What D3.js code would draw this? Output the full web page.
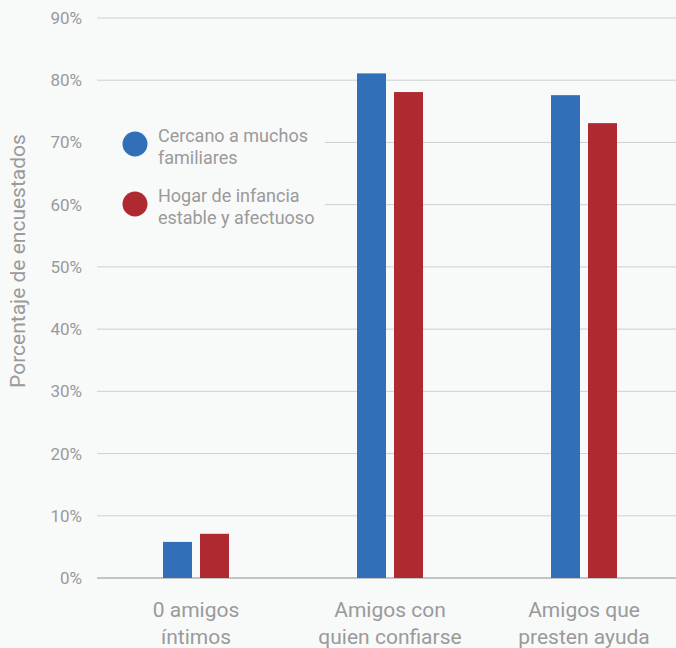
<!DOCTYPE html>
<html><head><meta charset="utf-8">
<script src="https://cdn.jsdelivr.net/npm/d3@7"></script>
<style>
html,body{margin:0;padding:0;background:#f8f9f9;overflow:hidden;}
svg{display:block;font-family:Roboto,"Noto Sans",sans-serif;}
</style></head>
<body>
<svg id="chart" width="676" height="648"></svg>
<script>
const categories = [["0 amigos","íntimos"],["Amigos con","quien confiarse"],["Amigos que","presten ayuda"]];
const seriesNames = [["Cercano a muchos","familiares"],["Hogar de infancia","estable y afectuoso"]];
const seriesColors = ["#3170b8","#ae2a30"];
const cercano = [5.8, 81.1, 77.6];
const hogar = [7.1, 78.1, 73.1];
const yTicks = [0,10,20,30,40,50,60,70,80,90];
const yTitle = "Porcentaje de encuestados";

const svg = d3.select("#chart");
svg.append("rect").attr("width",676).attr("height",648).attr("fill","#f8f9f9");

const x = d3.scaleBand().domain(d3.range(categories.length)).range([99,681]).padding(0);
const y = d3.scaleLinear().domain([0,90]).range([578,18]);

// gridlines
svg.append("g").selectAll("line").data(yTicks).join("line")
  .attr("x1",97).attr("x2",676)
  .attr("y1",d=>y(d)).attr("y2",d=>y(d))
  .attr("stroke",d=>d===0?"#c4c4c4":"#cfcfcf")
  .attr("stroke-width",d=>d===0?2:1);

// y axis labels
const yAxis = d3.axisLeft(y).tickValues(yTicks).tickFormat(d=>d+"%").tickSize(0).tickPadding(0);
const ga = svg.append("g").attr("transform","translate(82,0)").call(yAxis);
ga.select(".domain").remove();
ga.selectAll("text").attr("fill","#9a9a9a").attr("font-size",17).attr("font-family","Roboto");

// y title
svg.append("text").attr("transform","translate(25,261) rotate(-90)")
  .attr("text-anchor","middle").attr("fill","#9a9a9a").attr("font-size",21).text(yTitle);

// bars
const data = [cercano, hogar];
const barW = 29, gap = 8;
data.forEach((vals,si)=>{
  svg.append("g").selectAll("rect").data(vals).join("rect")
    .attr("x",(d,i)=>x(i)+x.bandwidth()/2 + (si===0 ? -gap/2-barW : gap/2))
    .attr("width",barW)
    .attr("y",d=>y(d)).attr("height",d=>y(0)-y(d))
    .attr("fill",seriesColors[si]);
});

// category labels
const gl = svg.append("g");
categories.forEach((c,i)=>{
  const t = gl.append("text").attr("text-anchor","middle").attr("fill","#9a9a9a").attr("font-size",21)
    .attr("x",x(i)+x.bandwidth()/2).attr("y",617);
  c.forEach((line,k)=>t.append("tspan").attr("x",x(i)+x.bandwidth()/2).attr("dy",k?27:0).text(line));
});

// legend
const lg = svg.append("g");
lg.append("rect").attr("x",96).attr("y",110).attr("width",229).attr("height",125).attr("fill","#f8f9f9");
seriesNames.forEach((s,i)=>{
  const cy = 144 + i*60;
  lg.append("circle").attr("cx",135).attr("cy",cy).attr("r",12.5).attr("fill",seriesColors[i]);
  const t = lg.append("text").attr("fill","#9a9a9a").attr("font-size",18).attr("x",158).attr("y",cy-2);
  s.forEach((line,k)=>t.append("tspan").attr("x",158).attr("dy",k?22:0).text(line));
});
</script>
</body></html>
